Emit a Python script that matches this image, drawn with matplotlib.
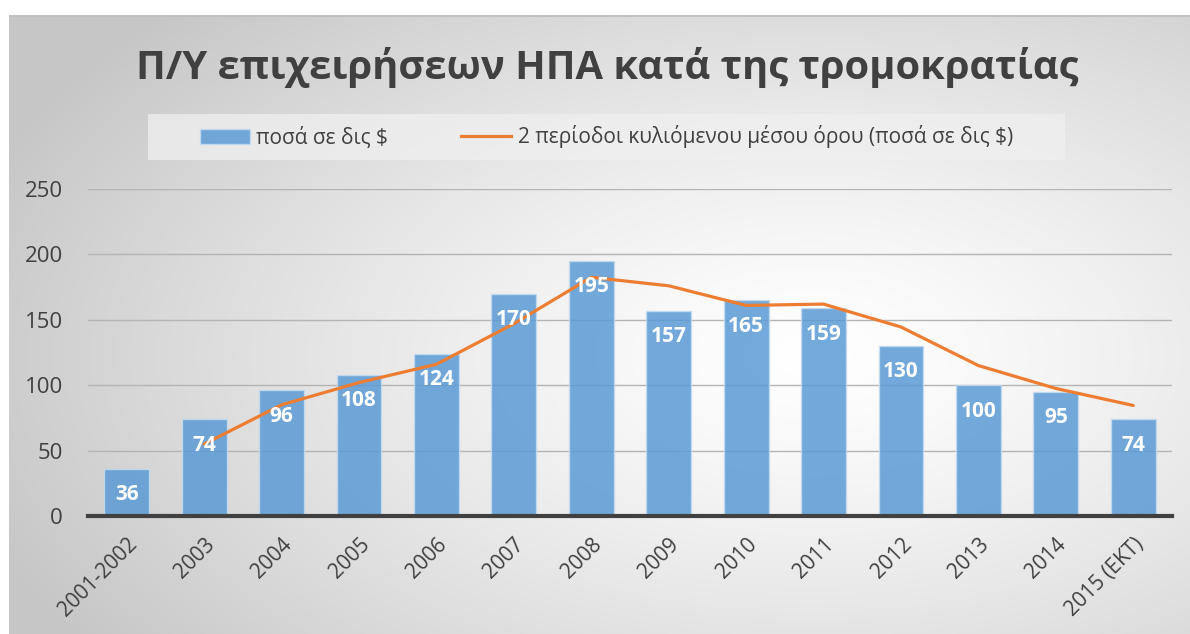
import numpy as np
import matplotlib
matplotlib.use("Agg")
import matplotlib.pyplot as plt
from matplotlib.patches import Rectangle, Patch
from matplotlib.lines import Line2D

plt.rcParams['font.family'] = ['Open Sans', 'DejaVu Sans']

# δεδομένα
categories = ['2001-2002', '2003', '2004', '2005', '2006', '2007', '2008',
              '2009', '2010', '2011', '2012', '2013', '2014', '2015 (ΕΚΤ)']
amounts = [36, 74, 96, 108, 124, 170, 195, 157, 165, 159, 130, 100, 95, 74]
moving_avg = [None, 55, 85, 102, 116, 147, 182.5, 176, 161, 162, 144.5, 115, 97.5, 84.5]

title = 'Π/Υ επιχειρήσεων ΗΠΑ κατά της τρομοκρατίας'
bar_label = 'ποσά σε δις $'
line_label = '2 περίοδοι κυλιόμενου μέσου όρου (ποσά σε δις $)'

W, H = 1190, 634
fig = plt.figure(figsize=(W / 100, H / 100), dpi=100)
fig.patch.set_facecolor('white')

# φόντο με ακτινική διαβάθμιση
bg = fig.add_axes([9 / W, 0, 1 - 9 / W, 1 - 15 / H], zorder=0)
yy, xx = np.mgrid[0:1:300j, 0:1:600j]
r = np.sqrt(((xx - 0.68) / 0.75) ** 2 + ((yy - 0.45) / 0.8) ** 2)
r = np.clip(r, 0, 1)
shade = 1.0 - 0.22 * r ** 1.3
img = np.dstack([shade, shade, shade])
bg.imshow(img, aspect='auto', extent=[0, 1, 0, 1], origin='lower')
bg.set_axis_off()
bg.add_line(Line2D([0, 1], [1, 1], color='#bfbfbf', lw=2, transform=bg.transAxes))

# κουτί υπομνήματος
fig.patches.append(Rectangle((148 / W, 1 - 160 / H), (1065 - 148) / W, 46 / H,
                             transform=fig.transFigure, facecolor='#f0f0f0',
                             alpha=0.75, edgecolor='none', zorder=1))

ax = fig.add_axes([88 / W, 1 - 516 / H, (1172 - 88) / W, (516 - 189) / H], zorder=2)
ax.patch.set_alpha(0)
x = np.arange(len(categories))

ax.bar(x, amounts, width=0.58, color='#5b9bd5', alpha=0.85,
       edgecolor='#c5dbef', linewidth=1, zorder=2)
ax.plot(x[1:], moving_avg[1:], color='#ed7d31', lw=2.3, zorder=4,
        solid_capstyle='round')

for xi, v in zip(x, amounts):
    ax.annotate(str(v), (xi, v), xytext=(0, -26), textcoords='offset pixels',
                ha='center', va='center', color='white', fontsize=15,
                fontweight='bold', zorder=5)

ax.set_xlim(-0.5, len(categories) - 0.5)
ax.set_ylim(0, 250)
ax.set_yticks(range(0, 251, 50))
ax.yaxis.grid(True, color='#b4b4b4', lw=1)
ax.set_axisbelow(True)
for s in ['top', 'right', 'left']:
    ax.spines[s].set_visible(False)
ax.spines['bottom'].set_color('#404040')
ax.spines['bottom'].set_linewidth(3)
ax.spines['bottom'].set_zorder(6)
ax.tick_params(length=0, colors='#404040')
ax.tick_params(axis='y', pad=18, labelsize=16)
ax.set_xticks(x)
ax.set_xticklabels(categories, rotation=45, ha='right', rotation_mode='anchor')
ax.tick_params(axis='x', pad=13, labelsize=15)

fig.text(607 / W, 1 - 68 / H, title, ha='center', va='center', fontsize=28.7,
         fontweight='bold', color='#404040', zorder=3)

handles = [Patch(facecolor='#5b9bd5', alpha=0.85, edgecolor='#c5dbef'),
           Line2D([0], [0], color='#ed7d31', lw=2.3)]
fig.legend(handles, [bar_label, line_label], loc='center',
           bbox_to_anchor=(0.5 * (148 + 1065) / W, 1 - 137 / H), ncol=2,
           frameon=False, fontsize=15, labelcolor='#404040',
           columnspacing=3.5, handlelength=2.4, handletextpad=0.3)

fig.savefig('out.png', dpi=100)
